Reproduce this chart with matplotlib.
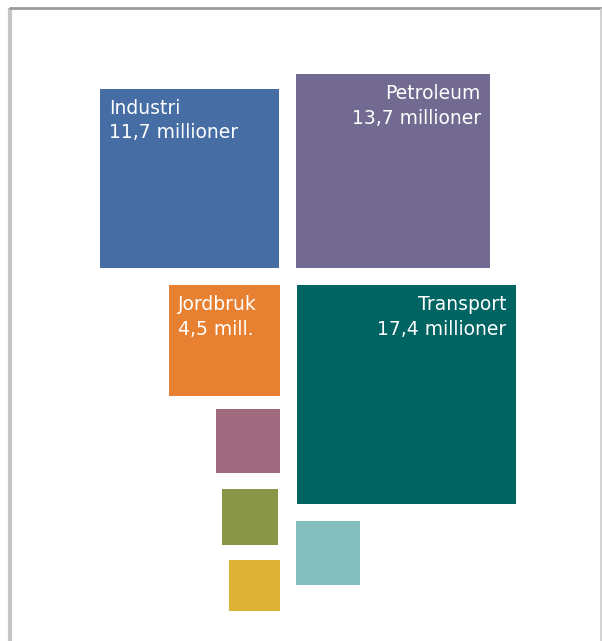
import numpy as np
import matplotlib.pyplot as plt
from matplotlib.patches import Rectangle

# Data: emissions per sector (area of square ~ value)
sectors = ['Industri', 'Petroleum', 'Jordbruk', 'Transport', 'Annet 1', 'Annet 2', 'Annet 3', 'Annet 4']
values = [11.7, 13.7, 4.5, 17.4, 1.5, 1.15, 0.95, 1.5]
labels = ['Industri\n11,7 millioner', 'Petroleum\n13,7 millioner', 'Jordbruk\n4,5 mill.',
          'Transport\n17,4 millioner', '', '', '', '']
colors = ['#476ea4', '#736a92', '#e88032', '#006462', '#a06b7e', '#8a9647', '#dcb336', '#83bfbf']

# Layout: anchor point (px) and which corner it is
scale = 52.4  # px per sqrt(unit)
anchors = [(279, 268, 'br'), (296, 268, 'bl'), (280, 285, 'tr'), (297, 285, 'tl'),
           (280, 409, 'tr'), (278, 489, 'tr'), (280, 560, 'tr'), (296, 521, 'tl')]

fig = plt.figure(figsize=(6.02, 6.41), dpi=100)
ax = fig.add_axes([0, 0, 1, 1])
ax.set_xlim(0, 602)
ax.set_ylim(641, 0)
ax.axis('off')

# frame
ax.plot([10, 10], [8, 641], color='#c4c4c4', lw=3, solid_capstyle='butt')
ax.plot([9, 602], [8, 8], color='#9a9a9a', lw=2, solid_capstyle='butt')
ax.plot([600.5, 600.5], [8, 641], color='#d0d0d0', lw=2, solid_capstyle='butt')

for name, val, lab, col, (ax_x, ax_y, corner) in zip(sectors, values, labels, colors, anchors):
    side = np.sqrt(val) * scale
    x0 = ax_x - side if corner[1] == 'r' else ax_x
    y0 = ax_y - side if corner[0] == 'b' else ax_y
    ax.add_patch(Rectangle((x0, y0), side, side, facecolor=col, edgecolor='none'))
    if lab:
        if corner[1] == 'r':
            ax.text(x0 + 9, y0 + 10, lab, color='white', fontsize=13.5, ha='left', va='top',
                    linespacing=1.38)
        else:
            ax.text(x0 + side - 9, y0 + 10, lab, color='white', fontsize=13.5, ha='right', va='top',
                    linespacing=1.38, multialignment='right')

plt.savefig('out.png', dpi=100)
